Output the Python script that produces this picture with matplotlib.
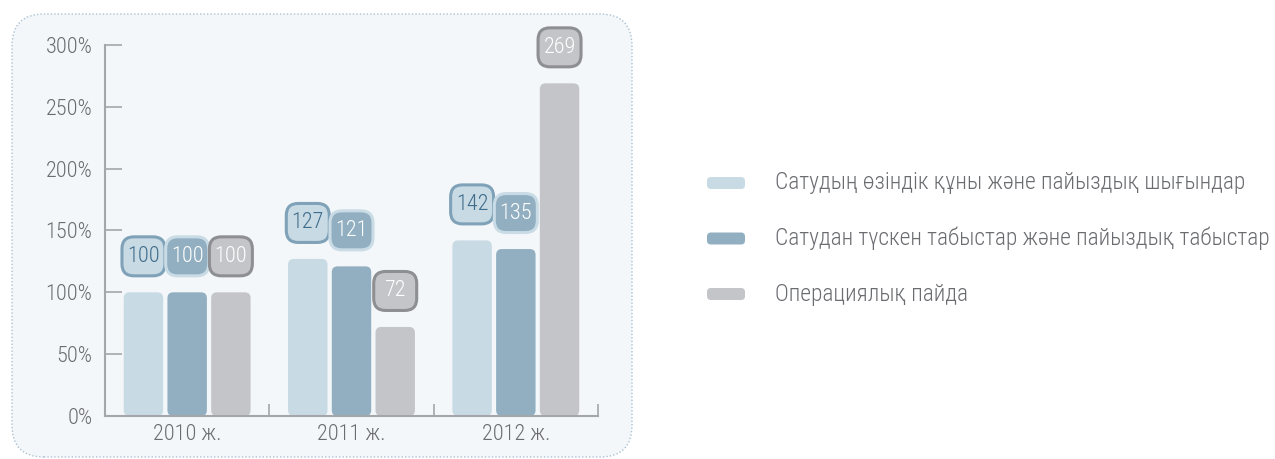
import numpy as np
import matplotlib.pyplot as plt
import matplotlib.transforms as mtransforms
from matplotlib.patches import FancyBboxPatch

plt.rcParams['font.family'] = ['Roboto Condensed', 'DejaVu Sans Condensed', 'DejaVu Sans']
plt.rcParams['font.stretch'] = 'condensed'
plt.rcParams['font.weight'] = 'light'

years = ['2010 ж.', '2011 ж.', '2012 ж.']
series_names = ['Сатудың өзіндік құны және пайыздық шығындар',
                'Сатудан түскен табыстар және пайыздық табыстар',
                'Операциялық пайда']
cost = [100, 127, 142]
revenue = [100, 121, 135]
profit = [100, 72, 269]
yticks = [0, 50, 100, 150, 200, 250, 300]

bar_colors = ['#c8dae4', '#91afc1', '#c4c5c9']
box_edge = ['#7fa2b8', '#c9dbe5', '#8e8f93']
box_text = ['#3f6c8a', 'white', 'white']
txt_col = '#6b6c70'

fig = plt.figure(figsize=(12.75, 4.59), dpi=100)

# panel background
panel = FancyBboxPatch((12 / 1275, 2 / 459), 620 / 1275, 443 / 459,
                       boxstyle='round,pad=0,rounding_size=0.025',
                       transform=fig.transFigure, fc='#f4f7f9', ec='#a9c1d1',
                       lw=1.0, ls=(0, (1, 1.5)), mutation_aspect=1275 / 459,
                       zorder=-5)
fig.patches.append(panel)

ax = fig.add_axes([105 / 1275, 43 / 459, 493 / 1275, 371 / 459])
ax.set_facecolor('none')

x = np.arange(len(years))
w = 0.24
off = 0.266
all_series = [cost, revenue, profit]
for i, vals in enumerate(all_series):
    bars = ax.bar(x + (i - 1) * off, vals, w, color=bar_colors[i])
    for b, v in zip(bars, vals):
        b.set_visible(False)
        rp = FancyBboxPatch((b.get_x(), b.get_y()), b.get_width(), b.get_height(),
                            boxstyle='round,pad=0,rounding_size=0.035',
                            mutation_aspect=135, fc=bar_colors[i], ec='none')
        ax.add_patch(rp)
        # value badge
        tr = fig.dpi_scale_trans + mtransforms.ScaledTranslation(
            b.get_x() + b.get_width() / 2, v, ax.transData)
        badge = FancyBboxPatch((-0.215, 0.165), 0.43, 0.39,
                               boxstyle='round,pad=0,rounding_size=0.12',
                               transform=tr, fc=bar_colors[i], ec=box_edge[i],
                               lw=2.2, clip_on=False)
        ax.add_artist(badge)
        ax.text(0, 0.36, str(v), transform=tr, ha='center', va='center',
                fontsize=16, color=box_text[i], clip_on=False)

ax.set_xlim(-0.5, 2.5)
ax.set_ylim(0, 300)
ax.set_yticks(yticks)
ax.set_yticklabels([f'{t}%' for t in yticks])
ax.set_xticks(x)
ax.set_xticklabels(years)
ax.set_xticks([-0.5, 0.5, 1.5, 2.5], minor=True)
ax.tick_params(axis='y', direction='in', length=12, width=1.2, color='#a5a6aa',
               labelsize=16, labelcolor=txt_col, pad=9)
ax.tick_params(axis='x', which='major', length=0, labelsize=16,
               labelcolor=txt_col, pad=6)
ax.tick_params(axis='x', which='minor', direction='in', length=9, width=1.2,
               color='#a5a6aa')
for s in ['top', 'right']:
    ax.spines[s].set_visible(False)
for s in ['left', 'bottom']:
    ax.spines[s].set_color('#a5a6aa')
    ax.spines[s].set_linewidth(1.5)

# legend
lax = fig.add_axes([0, 0, 1, 1], zorder=-1)
lax.patch.set_visible(False)
lax.set_xlim(0, 1275)
lax.set_ylim(459, 0)
lax.axis('off')
for i, name in enumerate(series_names):
    yc = 183 + i * 55.5
    lax.add_patch(FancyBboxPatch((707, yc - 6), 38, 12,
                                 boxstyle='round,pad=0,rounding_size=4',
                                 fc=bar_colors[i], ec='none'))
    lax.text(775, yc, name, ha='left', va='center', fontsize=16.8, color=txt_col)

fig.savefig('out.png', dpi=100)
